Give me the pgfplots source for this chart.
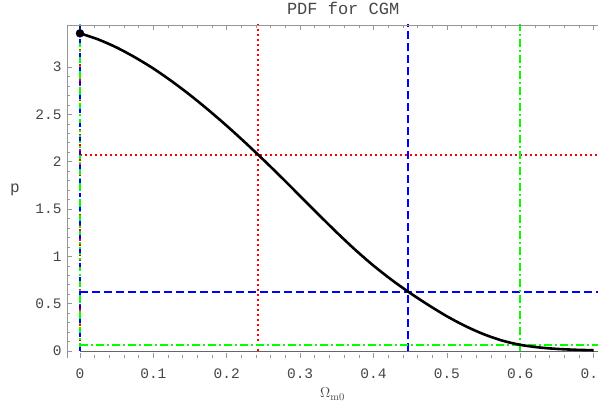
\documentclass[border=0pt]{standalone}
\usepackage{fontspec}
\setmonofont{Liberation Mono}
\usepackage{pgfplots}
\pgfplotsset{compat=1.18}

\definecolor{framegray}{RGB}{150,150,150}
\definecolor{labgray}{RGB}{70,70,70}

\begin{document}
\begin{tikzpicture}
\begin{axis}[
    scale only axis,
    width=531pt, height=333pt,
    xmin=-0.0177, xmax=0.706,
    ymin=-0.074, ymax=3.444,
    axis line style={draw=none},
    tick align=inside,
    xtick={0,0.1,...,0.7},
    ytick={0,0.5,...,3},
    minor x tick num=4,
    minor y tick num=4,
    xtick pos=both,
    ytick pos=left,
    major tick length=5pt,
    minor tick length=3pt,
    tick style={framegray, line width=0.6pt},
    /pgf/number format/assume math mode=true,
    /pgf/number format/fixed,
    /pgf/number format/precision=2,
    ticklabel style={font=\ttfamily\fontsize{14.5}{16}\selectfont, text=labgray},
    x tick label style={yshift=-7pt},
    y tick label style={xshift=-2pt},
    title={PDF for CGM},
    title style={font=\ttfamily\fontsize{17}{19}\selectfont, text=labgray,
        at={(rel axis cs:0.52,1)}, anchor=base, yshift=4pt},
    xlabel={$\Omega_{\mathrm{m0}}$},
    xlabel style={font=\fontsize{15}{17}\selectfont, text=labgray,
        at={(rel axis cs:0.5,0)}, anchor=base, yshift=-40pt},
    ylabel={p},
    ylabel style={font=\ttfamily\fontsize{16}{18}\selectfont, text=labgray,
        rotate=-90, at={(rel axis cs:0,0.505)}, anchor=center, xshift=-52pt},
]
% axis zero line
\addplot[black!60, line width=0.8pt] coordinates {(0,0) (0.72,0)};
% reference lines
\addplot[red, line width=2pt, dash pattern=on 2pt off 3pt] coordinates {(0,2.07) (0.72,2.07)};
\addplot[red, line width=2pt, dash pattern=on 2pt off 3pt] coordinates {(0.243,0) (0.243,3.5)};
\addplot[red, line width=2pt, dash pattern=on 2pt off 3pt] coordinates {(0,0) (0,3.5)};
\addplot[blue, line width=2pt, dash pattern=on 8pt off 4pt] coordinates {(0,0.62) (0.72,0.62)};
\addplot[blue, line width=2pt, dash pattern=on 8pt off 4pt] coordinates {(0.447,0) (0.447,3.5)};
\addplot[green, line width=2pt, dash pattern=on 8pt off 3pt on 2pt off 3pt] coordinates {(0,0.062) (0.72,0.062)};
\addplot[green, line width=2pt, dash pattern=on 8pt off 3pt on 2pt off 3pt] coordinates {(0.6,0) (0.6,3.5)};
\addplot[green, line width=2pt, dash pattern=on 8pt off 3pt on 2pt off 3pt] coordinates {(0,0) (0,3.5)};
\addplot[blue, line width=2pt, dash pattern=on 4pt off 10pt] coordinates {(0,0) (0,3.5)};
% PDF curve
\addplot[black, line width=2.6pt, smooth] coordinates {
    (0,3.356) (0.025,3.291) (0.05,3.206) (0.075,3.102) (0.1,2.984)
    (0.125,2.850) (0.15,2.704) (0.175,2.546) (0.2,2.379) (0.225,2.203)
    (0.25,2.020) (0.275,1.831) (0.3,1.637) (0.325,1.443) (0.35,1.252)
    (0.375,1.070) (0.4,0.902) (0.425,0.750) (0.45,0.612) (0.475,0.485)
    (0.5,0.367) (0.525,0.264) (0.55,0.178) (0.575,0.111) (0.6,0.065)
    (0.625,0.038) (0.65,0.022) (0.675,0.013) (0.7,0.008)
};
\addplot[only marks, mark=*, mark size=4pt, black] coordinates {(0,3.356)};
% frame
\draw[framegray, line width=0.8pt] (rel axis cs:1,1) -- (rel axis cs:0,1) -- (rel axis cs:0,0) -- (rel axis cs:1,0);
\coordinate (fbl) at (rel axis cs:0,0);
\coordinate (ftr) at (rel axis cs:1,1);
\end{axis}
\pgfresetboundingbox
\path[use as bounding box] ([xshift=-67pt,yshift=-46pt]fbl) rectangle ([yshift=25pt]ftr);
\end{tikzpicture}
\end{document}
